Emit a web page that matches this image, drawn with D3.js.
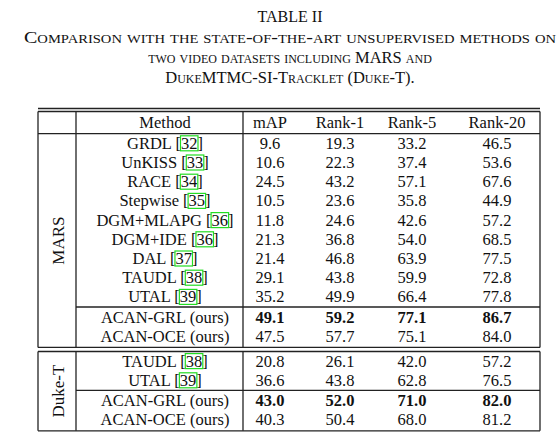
<!DOCTYPE html>
<html><head><meta charset="utf-8">
<script src="https://cdn.jsdelivr.net/npm/d3@7"></script>
<style>body{margin:0;background:#fff}svg text{font-family:"Liberation Serif","DejaVu Serif",serif;fill:#111}</style>
</head><body><svg id="c" width="558" height="442"></svg>
<script>
const columns = ["Method", "mAP", "Rank-1", "Rank-5", "Rank-20"];
const marsMethods = ["GRDL [32]", "UnKISS [33]", "RACE [34]", "Stepwise [35]", "DGM+MLAPG [36]", "DGM+IDE [36]", "DAL [37]", "TAUDL [38]", "UTAL [39]", "ACAN-GRL (ours)", "ACAN-OCE (ours)"];
const marsValues = [
  [9.6, 19.3, 33.2, 46.5], [10.6, 22.3, 37.4, 53.6], [24.5, 43.2, 57.1, 67.6],
  [10.5, 23.6, 35.8, 44.9], [11.8, 24.6, 42.6, 57.2], [21.3, 36.8, 54.0, 68.5],
  [21.4, 46.8, 63.9, 77.5], [29.1, 43.8, 59.9, 72.8], [35.2, 49.9, 66.4, 77.8],
  [49.1, 59.2, 77.1, 86.7], [47.5, 57.7, 75.1, 84.0]];
const dukeMethods = ["TAUDL [38]", "UTAL [39]", "ACAN-GRL (ours)", "ACAN-OCE (ours)"];
const dukeValues = [[20.8, 26.1, 42.0, 57.2], [36.6, 43.8, 62.8, 76.5], [43.0, 52.0, 71.0, 82.0], [40.3, 50.4, 68.0, 81.2]];
const boldMethod = "ACAN-GRL (ours)";
const titleLines = ["Comparison with the state-of-the-art unsupervised methods on", "two video datasets including MARS and", "DukeMTMC-SI-Tracklet (Duke-T)."];

const svg = d3.select("#c");
const FONT = "Liberation Serif, DejaVu Serif, serif";
const L = 38, R = 540, X1 = 76, X2 = 243;
const colPos = d3.scaleOrdinal().domain(columns).range([165, 270, 340, 412, 497]);
const rowH = 19.2;

// title
svg.append("text").attr("x", 290).attr("y", 22).attr("text-anchor", "middle").attr("font-family", FONT)
  .attr("font-size", 16).text("TABLE II");
titleLines.forEach((t, i) => {
  const el = svg.append("text").attr("x", 290).attr("y", 43 + i * 20).attr("text-anchor", "middle")
    .attr("font-family", FONT).attr("font-size", 16.5).style("font-variant", "small-caps").text(t);
  if (i === 0) el.attr("textLength", 532).attr("lengthAdjust", "spacingAndGlyphs");
});

function line(x1, y1, x2, y2, w) {
  svg.append("line").attr("x1", x1).attr("y1", y1).attr("x2", x2).attr("y2", y2)
    .attr("stroke", "#222").attr("stroke-width", w || 1.3);
}
function cellText(x, y, s, bold) {
  const t = svg.append("text").attr("x", x).attr("y", y).attr("text-anchor", "middle").attr("font-family", FONT)
    .attr("dominant-baseline", "central").attr("font-size", 16.5).attr("font-weight", bold ? "bold" : null).text(s);
  const m = s.match(/\[(\d+)\]/);
  if (m) {
    const node = t.node(), bb = node.getBBox();
    const i = s.indexOf(m[1]);
    const off = node.getSubStringLength(0, i), w = node.getSubStringLength(i, m[1].length);
    svg.append("rect").attr("x", bb.x + off - 0.5).attr("y", y - 7.5).attr("width", w + 1).attr("height", 15)
      .attr("fill", "none").attr("stroke", "#22dd22").attr("stroke-width", 1.2);
  }
}
function block(top, methods, values, splitAt, label, header) {
  let y = top;
  if (header) {
    columns.forEach(c => cellText(colPos(c), y + 11, c));
    y += 22.2; line(L, y, R, y);
  }
  const start = y;
  methods.forEach((m, i) => {
    if (i === splitAt) { line(X1, y + 0.5, R, y + 0.5); y += 1; }
    const cy = y + rowH / 2;
    const bold = m === boldMethod;
    cellText(colPos("Method"), cy, m);
    values[i].forEach((v, j) => cellText(colPos(columns[j + 1]), cy, v.toFixed(1), bold));
    y += rowH;
  });
  y += 1.5;
  line(L, y, R, y);
  line(L, top, L, y); line(R, top, R, y); line(X1, top, X1, y); line(X2, top, X2, y);
  svg.append("text").attr("transform", `translate(${(L + X1) / 2 + 1},${(start + y) / 2}) rotate(-90)`)
    .attr("font-family", FONT).attr("text-anchor", "middle").attr("dominant-baseline", "central")
    .attr("font-size", 17).text(label);
  return y;
}
line(L, 108.5, R, 108.5, 1.4);
line(L, 111.5, R, 111.5, 1.3);
block(111.5, marsMethods, marsValues, 9, "MARS", true);
line(L, 351.5, R, 351.5);
block(351.5, dukeMethods, dukeValues, 2, "Duke-T", false);
</script></body></html>
